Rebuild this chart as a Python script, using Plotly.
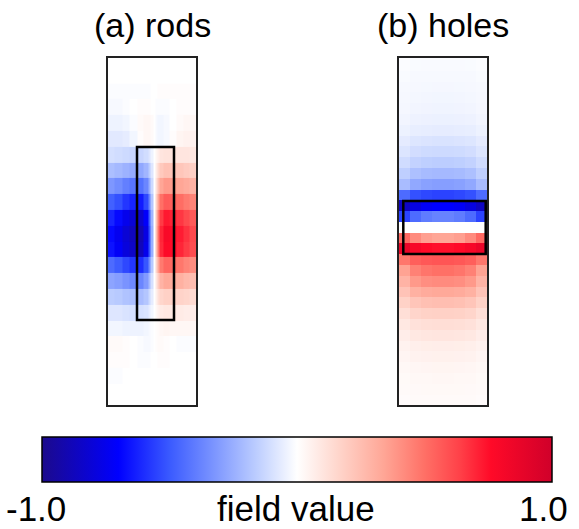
import plotly.graph_objects as go

# ---------------- data ----------------
rods_x = [3, 10, 18, 25.5, 32.5, 38.5, 41.5, 44, 46, 48, 50, 53, 58.5, 65, 71.5, 78.5, 85]
rods_y = list(range(23))
rods_z = [
    [0] * 17,
    [0] * 17,
    [-0.01, -0.01, -0.01, -0.01, -0.01, -0.01, -0.01, 0, 0, 0, 0.01, 0.01, 0.01, 0.01, 0.01, 0.01, 0.01],
    [-0.02, -0.02, -0.01, 0.0, 0.01, 0.01, 0.01, 0.0, 0.0, -0.01, -0.01, -0.01, -0.01, 0.0, 0.01, 0.01, 0.01],
    [-0.04, -0.04, -0.03, -0.01, 0.02, 0.03, 0.03, 0.02, 0.0, -0.02, -0.03, -0.03, -0.02, 0.0, 0.02, 0.03, 0.03],
    [-0.07, -0.07, -0.06, -0.03, 0.01, 0.03, 0.03, 0.02, 0.0, -0.02, -0.03, -0.03, -0.02, 0.01, 0.04, 0.05, 0.05],
    [-0.10, -0.11, -0.12, -0.13, -0.13, -0.11, -0.08, -0.04, 0.0, 0.04, 0.07, 0.10, 0.11, 0.11, 0.10, 0.10, 0.09],
    [-0.20, -0.22, -0.24, -0.26, -0.27, -0.23, -0.16, -0.08, 0.0, 0.08, 0.15, 0.21, 0.24, 0.23, 0.22, 0.20, 0.18],
    [-0.32, -0.35, -0.39, -0.42, -0.43, -0.37, -0.25, -0.12, 0.0, 0.12, 0.24, 0.34, 0.38, 0.37, 0.34, 0.32, 0.29],
    [-0.48, -0.52, -0.58, -0.62, -0.64, -0.54, -0.37, -0.18, 0.0, 0.18, 0.35, 0.50, 0.56, 0.55, 0.51, 0.47, 0.44],
    [-0.62, -0.68, -0.75, -0.81, -0.83, -0.71, -0.48, -0.23, 0.0, 0.23, 0.46, 0.65, 0.73, 0.71, 0.66, 0.61, 0.56],
    [-0.68, -0.74, -0.81, -0.87, -0.90, -0.77, -0.52, -0.25, 0.0, 0.25, 0.50, 0.70, 0.79, 0.77, 0.72, 0.67, 0.61],
    [-0.66, -0.72, -0.79, -0.85, -0.88, -0.75, -0.51, -0.25, 0.0, 0.25, 0.48, 0.69, 0.77, 0.76, 0.70, 0.65, 0.60],
    [-0.45, -0.49, -0.54, -0.58, -0.60, -0.51, -0.35, -0.17, 0.0, 0.17, 0.33, 0.47, 0.53, 0.52, 0.48, 0.44, 0.41],
    [-0.28, -0.30, -0.33, -0.36, -0.37, -0.31, -0.21, -0.10, 0.0, 0.10, 0.20, 0.29, 0.33, 0.32, 0.30, 0.27, 0.25],
    [-0.16, -0.17, -0.19, -0.20, -0.21, -0.18, -0.12, -0.06, 0.0, 0.06, 0.12, 0.16, 0.18, 0.18, 0.17, 0.16, 0.14],
    [-0.08, -0.08, -0.09, -0.10, -0.10, -0.09, -0.06, -0.03, 0.0, 0.03, 0.06, 0.08, 0.09, 0.09, 0.08, 0.07, 0.07],
    [-0.03, -0.03, -0.04, -0.04, -0.04, -0.03, -0.02, -0.01, 0.0, 0.01, 0.02, 0.03, 0.04, 0.03, 0.03, 0.03, 0.03],
    [0.02, 0.02, 0.01, 0.0, -0.01, -0.02, -0.02, -0.01, 0.0, 0.01, 0.02, 0.02, 0.01, 0.0, -0.01, -0.01, -0.01],
    [0.01, 0.01, 0.01, 0.0, -0.01, -0.01, -0.01, 0.0, 0.0, 0.0, 0.01, 0.01, 0.01, 0.0, 0.0, 0.0, 0.0],
    [-0.01, -0.01, 0, 0, 0, 0, 0, 0, 0, 0, 0, 0, 0, 0, 0, 0, 0],
    [0] * 17,
    [0] * 17,
]

holes_x = [5.5, 16.5, 27.5, 38.5, 49.5, 60.5, 71.5, 82.5]
holes_y = list(range(33))
holes_z = [
    [-0.005, -0.01, -0.01, -0.01, -0.01, -0.01, -0.01, -0.005],
    [-0.01, -0.014, -0.015, -0.015, -0.015, -0.015, -0.014, -0.01],
    [-0.014, -0.018, -0.019, -0.02, -0.02, -0.019, -0.018, -0.014],
    [-0.018, -0.022, -0.024, -0.025, -0.025, -0.024, -0.022, -0.018],
    [-0.021, -0.027, -0.029, -0.03, -0.03, -0.029, -0.027, -0.021],
    [-0.025, -0.032, -0.034, -0.035, -0.035, -0.034, -0.032, -0.025],
    [-0.032, -0.041, -0.044, -0.045, -0.045, -0.044, -0.041, -0.032],
    [-0.042, -0.054, -0.058, -0.06, -0.06, -0.058, -0.054, -0.042],
    [-0.063, -0.081, -0.087, -0.09, -0.09, -0.087, -0.081, -0.063],
    [-0.084, -0.108, -0.116, -0.12, -0.12, -0.116, -0.108, -0.084],
    [-0.112, -0.144, -0.155, -0.16, -0.16, -0.155, -0.144, -0.112],
    [-0.154, -0.198, -0.213, -0.22, -0.22, -0.213, -0.198, -0.154],
    [-0.21, -0.27, -0.29, -0.3, -0.3, -0.29, -0.27, -0.21],
    [-0.45, -0.52, -0.54, -0.55, -0.55, -0.54, -0.52, -0.45],
    [-0.86, -0.78, -0.72, -0.7, -0.7, -0.72, -0.78, -0.86],
    [-0.55, -0.45, -0.4, -0.38, -0.38, -0.4, -0.45, -0.55],
    [0, 0, 0, 0, 0, 0, 0, 0],
    [0.52, 0.42, 0.36, 0.34, 0.34, 0.36, 0.42, 0.52],
    [0.86, 0.8, 0.76, 0.75, 0.75, 0.76, 0.8, 0.86],
    [0.48, 0.55, 0.57, 0.58, 0.58, 0.57, 0.55, 0.48],
    [0.35, 0.45, 0.485, 0.5, 0.5, 0.485, 0.45, 0.35],
    [0.29, 0.38, 0.41, 0.42, 0.42, 0.41, 0.38, 0.29],
    [0.23, 0.30, 0.32, 0.33, 0.33, 0.32, 0.30, 0.23],
    [0.175, 0.225, 0.243, 0.25, 0.25, 0.243, 0.225, 0.175],
    [0.126, 0.162, 0.175, 0.18, 0.18, 0.175, 0.162, 0.126],
    [0.091, 0.117, 0.126, 0.13, 0.13, 0.126, 0.117, 0.091],
    [0.07, 0.09, 0.097, 0.1, 0.1, 0.097, 0.09, 0.07],
    [0.049, 0.063, 0.068, 0.07, 0.07, 0.068, 0.063, 0.049],
    [0.039, 0.05, 0.053, 0.055, 0.055, 0.053, 0.05, 0.039],
    [0.028, 0.036, 0.039, 0.04, 0.04, 0.039, 0.036, 0.028],
    [0.021, 0.027, 0.029, 0.03, 0.03, 0.029, 0.027, 0.021],
    [0.018, 0.023, 0.024, 0.025, 0.025, 0.024, 0.023, 0.018],
    [0.014, 0.018, 0.019, 0.02, 0.02, 0.019, 0.018, 0.014],
]

panel_titles = ["(a) rods", "(b) holes"]
cbar_labels = ["-1.0", "field value", "1.0"]
cmin, cmax = -1.0, 1.0

# ---------------- style ----------------
W, H = 579, 529
FONT = "Liberation Sans, Arial, sans-serif"
colorscale = [
    [0.0, "#1c0a8c"],
    [0.15, "#0000ff"],
    [0.25, "#3a5aff"],
    [0.33, "#7690ff"],
    [0.42, "#bccdff"],
    [0.5, "#ffffff"],
    [0.58, "#ffd6cc"],
    [0.67, "#ffa696"],
    [0.75, "#ff7066"],
    [0.82, "#ff4048"],
    [0.88, "#ff0a28"],
    [1.0, "#d0002a"],
]


def px_x(p):
    return p / W


def px_y(p):
    return 1 - p / H


fig = go.Figure()
fig.add_trace(go.Heatmap(x=rods_x, y=rods_y, z=rods_z, coloraxis="coloraxis",
                         xaxis="x", yaxis="y", hoverinfo="skip"))
fig.add_trace(go.Heatmap(x=holes_x, y=holes_y, z=holes_z, coloraxis="coloraxis",
                         xaxis="x2", yaxis="y2", hoverinfo="skip"))

frame = dict(showline=True, mirror=True, linecolor="#222", linewidth=1.5,
             showticklabels=False, ticks="", showgrid=False, zeroline=False)

fig.update_layout(
    width=W, height=H, autosize=False,
    margin=dict(l=0, r=0, t=0, b=0),
    paper_bgcolor="white", plot_bgcolor="white",
    showlegend=False,
    font=dict(family=FONT, color="black"),
    xaxis=dict(domain=[px_x(108), px_x(196)], range=[0, 88], anchor="y", **frame),
    yaxis=dict(domain=[px_y(405), px_y(58)], range=[21.85, -0.114], anchor="x", **frame),
    xaxis2=dict(domain=[px_x(399), px_x(487)], range=[0, 88], anchor="y2", **frame),
    yaxis2=dict(domain=[px_y(405), px_y(58)], range=[32.44, 0.306], anchor="x2", **frame),
    coloraxis=dict(
        colorscale=colorscale, cmin=cmin, cmax=cmax,
        colorbar=dict(
            orientation="h", x=px_x(42), xanchor="left", y=px_y(437), yanchor="top",
            len=510 / W, lenmode="fraction", thickness=45, thicknessmode="pixels",
            outlinewidth=1.5, outlinecolor="black", showticklabels=False, ticks="",
            xpad=0, ypad=0,
        ),
    ),
)

# inner structure outlines
fig.add_shape(type="rect", xref="x", yref="y", x0=29, x1=66, y0=5.52, y1=16.47,
              line=dict(color="black", width=2.5), fillcolor="rgba(0,0,0,0)")
fig.add_shape(type="rect", xref="x2", yref="y2", x0=4.3, x1=86.7, y0=13.55, y1=18.45,
              line=dict(color="black", width=2.5), fillcolor="rgba(0,0,0,0)")

# titles
for t, cx in zip(panel_titles, [152, 443]):
    fig.add_annotation(text=t, x=px_x(cx), y=px_y(25), xref="paper", yref="paper",
                       showarrow=False, xanchor="center", yanchor="middle",
                       font=dict(size=34, family=FONT, color="black"))

for t, cx in zip(cbar_labels, [36, 296, 543]):
    fig.add_annotation(text=t, x=px_x(cx), y=px_y(508), xref="paper", yref="paper",
                       showarrow=False, xanchor="center", yanchor="middle",
                       font=dict(size=35, family=FONT, color="black"))

fig.write_html("out.html", config={"displayModeBar": False},
               post_script="document.body.style.margin='0';")
